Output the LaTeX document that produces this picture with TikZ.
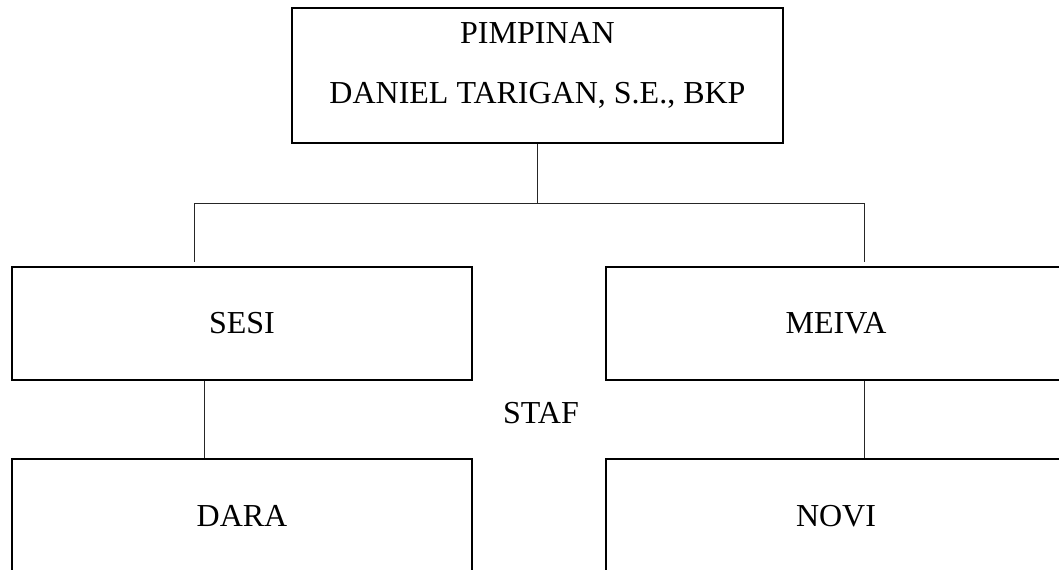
\documentclass[tikz,border=0pt]{standalone}
\usepackage{fontspec}
\setmainfont{Liberation Serif}
\usepackage{tikz}
\usetikzlibrary{positioning}

\begin{document}
\begin{tikzpicture}[x=0.75pt,y=-0.75pt,
    kotak/.style={draw,line width=1.6pt,rectangle,inner sep=0pt},
    teks/.style={font=\fontsize{24}{28}\selectfont,inner sep=0pt},
    garis/.style={line width=0.75pt,draw=black!85}]
   \useasboundingbox (0,0) rectangle (1059,569);
   \clip (0,0) rectangle (1059,569);
   \node[kotak,minimum width=491*0.75pt,minimum height=135*0.75pt] (PIM) at (537.5,75.5) {};
   \node[teks] (PIMa) at (537.5,33) {PIMPINAN};
   \node[teks] (PIMb) at (537.5,95) {DANIEL TARIGAN, S.E., BKP};
   \node[kotak,teks,minimum width=460*0.75pt,minimum height=113*0.75pt] (SESI) at (242,323.5) {SESI};
   \node[kotak,teks,minimum width=460*0.75pt,minimum height=113*0.75pt] (MEIVA) at (836,323.5) {MEIVA};
   \node[kotak,teks,minimum width=460*0.75pt,minimum height=114*0.75pt] (DARA) at (242,516) {DARA};
   \node[kotak,teks,minimum width=460*0.75pt,minimum height=114*0.75pt] (NOVI) at (836,516) {NOVI};
   \node[teks] (STAF) at (541,413) {STAF};
   \coordinate (kiri) at (194,203);
   \coordinate (kanan) at (864,203);
   \coordinate (kiribawah) at (204,0);
   \draw[garis] (PIM.south) -- (PIM.south |- kiri);
   \draw[garis] (kiri) -- (kanan);
   \draw[garis] (kiri) -- ([yshift=3pt]kiri |- SESI.north);
   \draw[garis] (kanan) -- ([yshift=3pt]kanan |- MEIVA.north);
   \draw[garis] (SESI.south -| kiribawah) -- (DARA.north -| kiribawah);
   \draw[garis] (MEIVA.south -| kanan) -- (NOVI.north -| kanan);
\end{tikzpicture}
\end{document}
